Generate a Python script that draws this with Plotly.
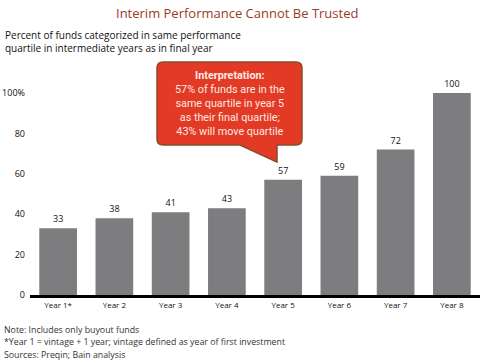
import plotly.graph_objects as go

categories = ["Year 1*", "Year 2", "Year 3", "Year 4", "Year 5", "Year 6", "Year 7", "Year 8"]
values = [33, 38, 41, 43, 57, 59, 72, 100]
y_tickvals = [0, 20, 40, 60, 80, 100]
y_ticktext = ["0", "20", "40", "60", "80", "100%"]
footnotes = [
    "Note: Includes only buyout funds",
    "*Year 1 = vintage + 1 year; vintage defined as year of first investment",
    "Sources: Preqin; Bain analysis",
]

W, H = 480, 363
L, R, T, B = 30, 0, 93, 68
PW = W - L - R
PH = H - T - B


def px(x):
    return (x - L) / PW


def py(y):
    return (H - B - y) / PH


FONT = "Open Sans"

fig = go.Figure()
fig.add_trace(go.Bar(
    x=categories, y=values,
    marker=dict(color="#7d7d80", line=dict(width=0)),
    width=0.67,
    text=[str(v) for v in values], textposition="outside",
    textfont=dict(size=9, color="#111111", family=FONT),
    cliponaxis=False, hoverinfo="skip",
))

# callout path (rounded box + pointer)
x0, x1, y0, y1, r = 157, 302, 62, 145, 6
pts = [
    ("M", px(x0 + r), py(y0)),
    ("L", px(x1 - r), py(y0)),
    ("Q", px(x1), py(y0), px(x1), py(y0 + r)),
    ("L", px(x1), py(y1 - r)),
    ("Q", px(x1), py(y1), px(x1 - r), py(y1)),
    ("L", px(277), py(y1)),
    ("L", px(277), py(162)),
    ("L", px(240), py(y1)),
    ("L", px(x0 + r), py(y1)),
    ("Q", px(x0), py(y1), px(x0), py(y1 - r)),
    ("L", px(x0), py(y0 + r)),
    ("Q", px(x0), py(y0), px(x0 + r), py(y0)),
]
path = ""
for p in pts:
    path += p[0] + " " + " ".join(f"{v:.5f}" for v in p[1:]) + " "
path += "Z"
fig.add_shape(type="path", path=path, xref="paper", yref="paper",
              fillcolor="#e23a25", line=dict(color="#8c4a2c", width=1.5), layer="above")

fig.add_annotation(
    x=px(230), y=py(103), xref="paper", yref="paper", showarrow=False,
    xanchor="center", yanchor="middle", align="center",
    text="<b>Interpretation:</b><br>57% of funds are in the<br>same quartile in year 5<br>as their final quartile;<br>43% will move quartile",
    font=dict(size=10.8, color="#fde9e2", family="Roboto"),
)

fig.add_annotation(
    x=px(237), y=py(13), xref="paper", yref="paper", showarrow=False,
    xanchor="center", yanchor="middle",
    text="Interim Performance Cannot Be Trusted",
    font=dict(size=13, color="#9c3a28", family=FONT),
)
fig.add_annotation(
    x=px(3), y=py(41), xref="paper", yref="paper", showarrow=False,
    xanchor="left", yanchor="middle", align="left",
    text="Percent of funds categorized in same performance<br>quartile in intermediate years as in final year",
    font=dict(size=10, color="#111111", family=FONT),
)
for i, line in enumerate(footnotes):
    fig.add_annotation(
        x=px(2), y=py(330 + 12.3 * i), xref="paper", yref="paper", showarrow=False,
        xanchor="left", yanchor="middle", align="left",
        text=line, font=dict(size=8.8, color="#333333", family=FONT),
    )

fig.update_layout(
    width=W, height=H,
    margin=dict(l=L, r=R, t=T, b=B, autoexpand=False),
    paper_bgcolor="white", plot_bgcolor="white",
    showlegend=False, bargap=0.33,
    font=dict(family=FONT),
    xaxis=dict(
        showline=True, linecolor="black", linewidth=3, automargin=False,
        showgrid=False, ticks="", tickfont=dict(size=8, color="#111111"),
        range=[-0.5, 7.5], fixedrange=True,
    ),
    yaxis=dict(
        range=[0, 100], showgrid=False, zeroline=False, showline=False, automargin=False,
        tickvals=y_tickvals, ticktext=y_ticktext, ticks="",
        tickfont=dict(size=9, color="#111111"), ticklabelstandoff=4,
    ),
)

fig.write_html(
    "out.html",
    config={"displayModeBar": False},
    post_script="document.body.style.margin='0';document.body.style.overflow='hidden';",
)
